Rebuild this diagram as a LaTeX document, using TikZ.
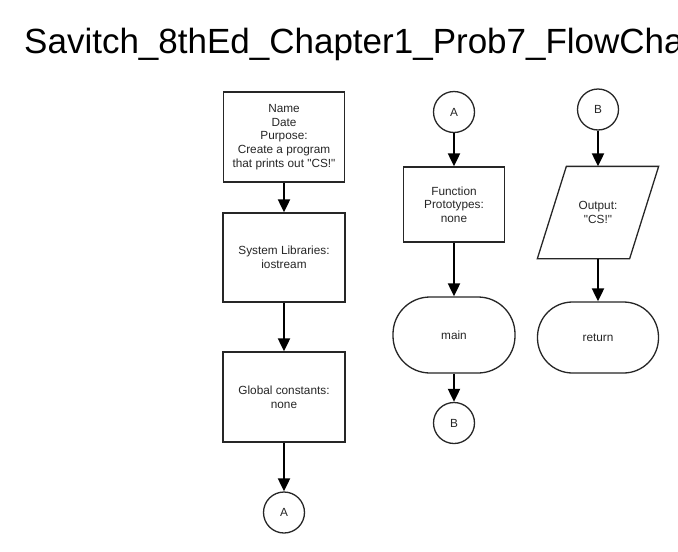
\documentclass[tikz,border=0pt]{standalone}
\usepackage{fontspec}
\setmainfont{Liberation Sans}[Ligatures=TeXOff]
\usetikzlibrary{arrows.meta}
\tikzset{
  shp/.style={draw=black!85, line width=1.3pt, fill=white, align=center, inner sep=0pt,
    font=\fontsize{11.8}{13.7}\selectfont, text=black!85},
  procbox/.style={shp, rectangle, minimum width=#1},
  conn/.style={circle, shp, minimum size=41pt},
  term/.style={shp, rectangle, rounded corners=#1},
  flow/.style={line width=2pt, -{Triangle[width=12pt,length=13pt]}},
}
\begin{document}
\begin{tikzpicture}[x=1pt,y=-1pt]
\useasboundingbox (0,0) rectangle (678,552);
\node[anchor=base west, inner sep=0pt, font=\fontsize{35}{40}\selectfont] (title) at (24,53) {Savitch\_8thEd\_Chapter1\_Prob7\_FlowChart};

% column 1
\node[procbox=121pt, minimum height=90pt] (n1) at (284,137) {Name\\Date\\Purpose:\\Create a program\\that prints out "CS!"};
\node[procbox=122pt, minimum height=89pt] (n2) at (284,257.5) {System Libraries:\\iostream};
\node[procbox=122pt, minimum height=90pt] (n3) at (284,397) {Global constants:\\none};
\node[conn] (a1) at (284,512.5) {A};

% column 2
\node[conn] (a2) at (454,112) {A};
\node[procbox=101pt, minimum height=75pt] (n4) at (454,204.5) {Function\\Prototypes:\\none};
\node[term=37pt, minimum width=122pt, minimum height=76pt] (mainn) at (454,335) {main};
\node[conn] (b1) at (454,423) {B};

% column 3
\node[conn] (b2) at (598,109.5) {B};
\node[shp, draw=none, fill=none, minimum width=120pt, minimum height=91pt] (out) at (598,212.5) {Output:\\"CS!"};
\draw[draw=black!85, line width=1.3pt] ([xshift=29pt]out.north west) -- (out.north east) -- ([xshift=-29pt]out.south east) -- (out.south west) -- cycle;
\node[term=35pt, minimum width=121pt, minimum height=71pt] (ret) at (598,337.5) {return};

% connectors
\draw[flow] (n1) -- (n2);
\draw[flow] (n2) -- (n3);
\draw[flow] (n3) -- (a1);
\draw[flow] (a2) -- (n4);
\draw[flow] (n4) -- (mainn);
\draw[flow] (mainn) -- (b1);
\draw[flow] (b2) -- (out.north);
\draw[flow] (out.south) -- (ret);
\end{tikzpicture}
\end{document}
